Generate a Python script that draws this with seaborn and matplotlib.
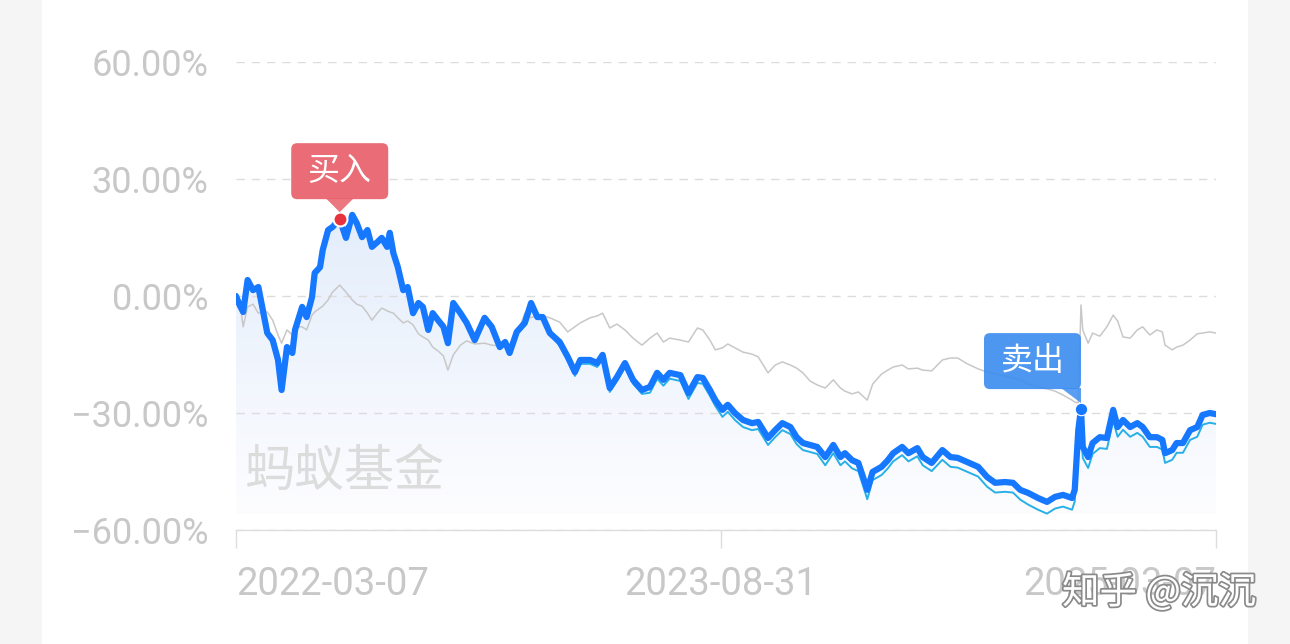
import matplotlib
matplotlib.use('Agg')
import matplotlib.pyplot as plt
import matplotlib.dates as mdates
import seaborn as sns
import pandas as pd
import numpy as np
from matplotlib.patches import FancyBboxPatch, Polygon, Rectangle
from matplotlib.colors import LinearSegmentedColormap
from matplotlib.transforms import IdentityTransform
from matplotlib import patheffects

# Dates of the sampled points
dates = [
    '2022-03-07', '2022-03-11', '2022-03-15', '2022-03-20', '2022-03-26', '2022-04-01', '2022-04-06', '2022-04-11',
    '2022-04-17', '2022-04-23', '2022-04-27', '2022-05-03', '2022-05-09', '2022-05-12', '2022-05-20', '2022-05-25',
    '2022-05-31', '2022-06-03', '2022-06-09', '2022-06-12', '2022-06-18', '2022-06-23', '2022-07-01', '2022-07-08',
    '2022-07-15', '2022-07-20', '2022-07-26', '2022-08-01', '2022-08-06', '2022-08-12', '2022-08-17', '2022-08-23',
    '2022-08-26', '2022-08-30', '2022-09-04', '2022-09-10', '2022-09-15', '2022-09-21', '2022-09-27', '2022-10-02',
    '2022-10-08', '2022-10-13', '2022-10-19', '2022-10-25', '2022-10-30', '2022-11-05', '2022-11-13', '2022-11-20',
    '2022-11-29', '2022-12-10', '2022-12-18', '2022-12-27', '2023-01-02', '2023-01-07', '2023-01-15', '2023-01-24',
    '2023-01-31', '2023-02-07', '2023-02-13', '2023-02-21', '2023-03-04', '2023-03-13', '2023-03-21', '2023-03-27',
    '2023-04-07', '2023-04-15', '2023-04-21', '2023-04-29', '2023-05-07', '2023-05-16', '2023-05-25', '2023-06-04',
    '2023-06-13', '2023-06-21', '2023-06-28', '2023-07-05', '2023-07-17', '2023-07-26', '2023-08-05', '2023-08-11',
    '2023-08-19', '2023-08-25', '2023-09-02', '2023-09-08', '2023-09-16', '2023-09-25', '2023-10-05', '2023-10-12',
    '2023-10-23', '2023-10-31', '2023-11-08', '2023-11-17', '2023-11-24', '2023-12-01', '2023-12-09', '2023-12-17',
    '2023-12-26', '2024-01-04', '2024-01-12', '2024-01-17', '2024-01-25', '2024-02-01', '2024-02-11', '2024-02-17',
    '2024-02-27', '2024-03-05', '2024-03-11', '2024-03-21', '2024-03-28', '2024-04-07', '2024-04-13', '2024-04-23',
    '2024-05-05', '2024-05-14', '2024-05-22', '2024-06-02', '2024-06-14', '2024-06-24', '2024-07-03', '2024-07-14',
    '2024-07-23', '2024-07-31', '2024-08-09', '2024-08-20', '2024-08-30', '2024-09-08', '2024-09-17', '2024-09-27',
    '2024-09-30', '2024-10-04', '2024-10-07', '2024-10-09', '2024-10-15', '2024-10-20', '2024-10-28', '2024-11-05',
    '2024-11-12', '2024-11-17', '2024-11-23', '2024-12-01', '2024-12-09', '2024-12-15', '2024-12-23', '2024-12-31',
    '2025-01-06', '2025-01-09', '2025-01-17', '2025-01-22', '2025-01-29', '2025-02-06', '2025-02-14', '2025-02-20',
    '2025-02-28', '2025-03-07',
]

# Fund cumulative return (%) - thick blue line
fund = [
    0.0, -2.3, -4.1, 4.1, 1.5, 2.3, -3.6, -9.5, -11.3, -16.4,
    -24.1, -13.1, -14.6, -8.7, -2.8, -5.4, -0.3, 5.9, 7.4, 11.8,
    16.9, 17.7, 19.7, 14.9, 20.8, 18.7, 15.1, 16.9, 12.6, 13.8,
    14.9, 12.6, 16.2, 11.0, 7.4, 1.5, 2.3, -4.4, -1.8, -2.8,
    -8.7, -4.4, -6.2, -7.9, -12.1, -1.8, -4.4, -6.9, -11.3, -5.6,
    -7.9, -13.1, -11.8, -14.6, -9.2, -6.9, -1.8, -5.4, -5.4, -9.5,
    -11.8, -15.6, -19.5, -16.4, -16.4, -17.2, -15.1, -23.6, -20.8, -17.2,
    -21.5, -24.1, -23.3, -19.7, -21.5, -19.7, -20.3, -24.9, -20.8, -21.0,
    -24.1, -26.7, -29.2, -27.9, -30.0, -31.8, -32.6, -32.3, -36.4, -34.4,
    -32.6, -33.6, -36.2, -37.7, -38.2, -38.7, -41.3, -38.2, -41.3, -40.3,
    -42.1, -42.8, -49.7, -45.1, -43.8, -42.1, -40.3, -38.7, -40.3, -39.0,
    -41.3, -42.8, -39.5, -41.3, -41.5, -42.6, -43.8, -46.4, -47.9, -47.7,
    -47.9, -49.7, -50.5, -51.8, -52.8, -51.5, -51.0, -51.8, -49.7, -34.4,
    -29.0, -38.7, -41.3, -37.7, -36.2, -36.4, -29.2, -33.6, -31.8, -33.6,
    -32.6, -33.6, -36.2, -36.2, -36.9, -40.3, -39.5, -37.7, -37.7, -34.4,
    -33.6, -30.5, -30.0, -30.3,
]

# Second (thin cyan) line
fund_alt = [
    0.0, -2.3, -4.1, 4.1, 1.5, 2.3, -3.6, -9.5, -11.3, -16.4,
    -24.1, -13.1, -14.6, -8.7, -2.8, -5.4, -0.3, 5.9, 7.4, 11.8,
    16.9, 17.7, 19.7, 14.9, 20.8, 18.7, 15.1, 16.9, 12.6, 13.8,
    14.9, 12.6, 16.2, 11.0, 7.4, 1.5, 2.3, -4.7, -2.1, -3.1,
    -9.0, -4.7, -6.5, -8.2, -12.4, -2.1, -4.7, -7.2, -11.6, -5.9,
    -8.2, -13.4, -12.1, -14.9, -9.5, -7.2, -2.1, -5.7, -5.7, -9.8,
    -12.8, -16.6, -20.5, -17.4, -17.4, -18.2, -16.1, -24.6, -21.8, -18.2,
    -22.5, -25.1, -24.8, -21.2, -23.0, -21.2, -21.8, -26.4, -22.3, -22.5,
    -25.6, -28.2, -31.0, -29.7, -31.8, -33.6, -34.4, -34.1, -38.2, -36.2,
    -34.4, -35.4, -38.0, -39.5, -40.0, -40.5, -43.4, -40.3, -43.4, -42.4,
    -44.2, -44.9, -52.1, -47.2, -45.9, -44.2, -42.4, -40.8, -42.4, -41.1,
    -43.4, -44.9, -42.0, -43.8, -44.0, -45.1, -46.3, -48.9, -50.4, -50.2,
    -50.4, -52.2, -53.5, -54.8, -55.8, -54.5, -54.0, -54.8, -52.7, -37.4,
    -32.0, -41.5, -44.1, -40.5, -39.0, -39.2, -32.0, -36.1, -34.3, -36.1,
    -35.1, -36.1, -38.7, -38.7, -39.4, -42.8, -42.0, -40.2, -40.2, -36.9,
    -36.1, -33.0, -32.5, -32.8,
]

# Benchmark (thin gray line)
benchmark = [
    0.0, -1.0, -7.9, -2.8, -2.1, -4.4, -4.1, -4.1, -6.2, -10.0,
    -12.1, -8.7, -10.0, -7.9, -7.9, -8.7, -4.9, -4.1, -3.1, -2.6,
    -1.0, 1.0, 2.8, 1.0, -1.0, -2.1, -2.6, -4.4, -6.2, -4.4,
    -3.1, -3.8, -4.1, -4.4, -5.6, -6.9, -6.4, -7.4, -9.7, -10.5,
    -11.3, -13.1, -14.1, -15.4, -19.0, -15.1, -12.6, -11.5, -12.3, -12.1,
    -12.6, -12.8, -12.3, -12.6, -10.0, -4.4, -5.6, -4.9, -5.1, -5.6,
    -6.7, -9.2, -7.9, -6.9, -5.6, -5.1, -4.4, -8.2, -7.2, -8.7,
    -10.8, -12.6, -10.8, -9.5, -11.8, -10.8, -11.3, -11.8, -8.2, -8.7,
    -11.3, -13.8, -13.3, -12.3, -13.3, -14.4, -14.9, -15.6, -19.7, -17.7,
    -16.9, -17.7, -18.5, -19.7, -21.8, -22.8, -23.6, -21.5, -23.6, -24.4,
    -25.1, -24.6, -26.7, -22.6, -20.0, -19.0, -18.2, -17.7, -18.7, -18.5,
    -19.0, -19.2, -16.4, -15.9, -15.9, -17.4, -18.7, -19.5, -20.0, -20.5,
    -21.0, -21.5, -22.6, -23.3, -23.8, -24.4, -25.4, -26.7, -27.2, -27.4,
    -2.3, -8.7, -12.1, -9.5, -10.3, -7.9, -4.9, -6.4, -10.5, -10.8,
    -8.7, -7.9, -10.0, -8.7, -9.2, -12.6, -13.8, -13.1, -12.6, -11.3,
    -9.7, -9.5, -9.2, -9.5,
]

x_ticks = ['2022-03-07', '2023-08-31', '2025-03-07']
y_ticks = [60, 30, 0, -30, -60]
y_tick_labels = ['60.00%', '30.00%', '0.00%', '\u221230.00%', '\u221260.00%']

trade_dates = ['2022-07-01', '2024-10-07']
trade_labels = ['买入', '卖出']

sns.set_theme(style='white')
plt.rcParams['font.family'] = ['Roboto', 'Noto Sans CJK SC', 'DejaVu Sans']
cjk = ['Noto Sans CJK SC', 'DejaVu Sans']

df = pd.DataFrame({'date': pd.to_datetime(dates), 'fund': fund,
                   'alt': fund_alt, 'bench': benchmark})

W, H = 1290, 644
fig = plt.figure(figsize=(W / 100, H / 100), dpi=100)
fig.patch.set_facecolor('#f5f5f5')
fig.add_artist(Rectangle((42 / W, 0), 1206 / W, 1, transform=fig.transFigure,
                         facecolor='white', edgecolor='none', zorder=-10))

ax = fig.add_axes([236 / W, 114 / H, 980 / W, 468 / H])
ax.set_facecolor('none')
ax.set_axisbelow(True)

sns.lineplot(data=df, x='date', y='bench', ax=ax, color='#c8c8c8', linewidth=1.1, zorder=3)
sns.lineplot(data=df, x='date', y='alt', ax=ax, color='#27b0e8', linewidth=1.4, zorder=4)
sns.lineplot(data=df, x='date', y='fund', ax=ax, color='#1677ff', linewidth=4.5, zorder=5)

# gradient area under the fund line
xnum = mdates.date2num(df['date'])
poly = ax.fill_between(df['date'], df['fund'], -56, facecolor='none', edgecolor='none')
grad = np.linspace(0, 1, 256).reshape(-1, 1)
fade = LinearSegmentedColormap.from_list('fade', ['#fdfdff', '#e3edfb'])
im = ax.imshow(grad, cmap=fade, origin='lower', aspect='auto',
               extent=[xnum[0], xnum[-1], -56, 22], zorder=0.4)
im.set_clip_path(poly.get_paths()[0], transform=ax.transData)

ax.set_xlim(pd.Timestamp(x_ticks[0]), pd.Timestamp(x_ticks[-1]))
ax.set_ylim(-60, 60)

ax.set_yticks(y_ticks)
ax.set_yticklabels(y_tick_labels)
ax.set_xticks(pd.to_datetime(x_ticks))
ax.set_xticklabels(x_ticks)
ax.set_xlabel('')
ax.set_ylabel('')

ax.grid(True, axis='y', color='#dcdcdc', linestyle=(0, (6, 5)), linewidth=1)
ax.grid(False, axis='x')
for s in ['top', 'right', 'left']:
    ax.spines[s].set_visible(False)
ax.spines['bottom'].set_color('#dddddd')
ax.spines['bottom'].set_linewidth(1)

ax.tick_params(axis='y', length=0, pad=20, labelsize=26, labelcolor='#c8c8c8')
ax.tick_params(axis='x', bottom=True, length=13, width=1, color='#dddddd', direction='out',
               pad=13, labelsize=27.5, labelcolor='#c8c8c8')
xl = ax.get_xticklabels()
xl[0].set_ha('left')
xl[1].set_ha('center')
xl[2].set_ha('right')

# watermark
ax.text(0.009, 0.124, '蚂蚁基金', transform=ax.transAxes, fontsize=36, color='#dcdcdc',
        ha='left', va='center', family=cjk, zorder=0.6)

# buy / sell markers
box_colors = ['#e8606b', '#3e8ef0']
dot_colors = ['#e8323e', '#1677ff']
for i, (d, lab) in enumerate(zip(trade_dates, trade_labels)):
    val = df.loc[df['date'] == pd.Timestamp(d), 'fund'].iloc[0]
    ax.scatter([pd.Timestamp(d)], [val], s=100 if i == 0 else 80, color=dot_colors[i],
               edgecolor='white', linewidth=1.5 if i == 0 else 0.8, zorder=8)
    px, py = ax.transData.transform((mdates.date2num(pd.Timestamp(d)), val))
    bw, bh = 97, 56
    if i == 0:
        bx = px - bw / 2
        tail = [(px - 14, py + 21), (px + 14, py + 21), (px, py + 7)]
    else:
        bx = px - bw
        tail = [(px - 20, py + 21), (px, py + 21), (px, py + 6)]
    by = py + 20
    fig.add_artist(FancyBboxPatch((bx, by), bw, bh, boxstyle='round,pad=0,rounding_size=6',
                                  transform=IdentityTransform(), facecolor=box_colors[i],
                                  edgecolor='none', alpha=0.92, zorder=10))
    fig.add_artist(Polygon(tail, closed=True, transform=IdentityTransform(),
                           facecolor=box_colors[i], edgecolor='none', alpha=0.85, zorder=10))
    fig.text(bx + bw / 2, by + bh / 2, lab, transform=IdentityTransform(), fontsize=23,
             color='white', ha='center', va='center', family=cjk, fontweight='light', zorder=11)

fig.text(1062 / W, 1 - 593 / H, '知乎 @沉沉', fontsize=27, color='white', ha='left', va='center',
         family=cjk, zorder=12,
         path_effects=[patheffects.Stroke(linewidth=2.5, foreground='#8a8a8a'), patheffects.Normal()])

fig.savefig('out.png', dpi=100, facecolor=fig.get_facecolor())
